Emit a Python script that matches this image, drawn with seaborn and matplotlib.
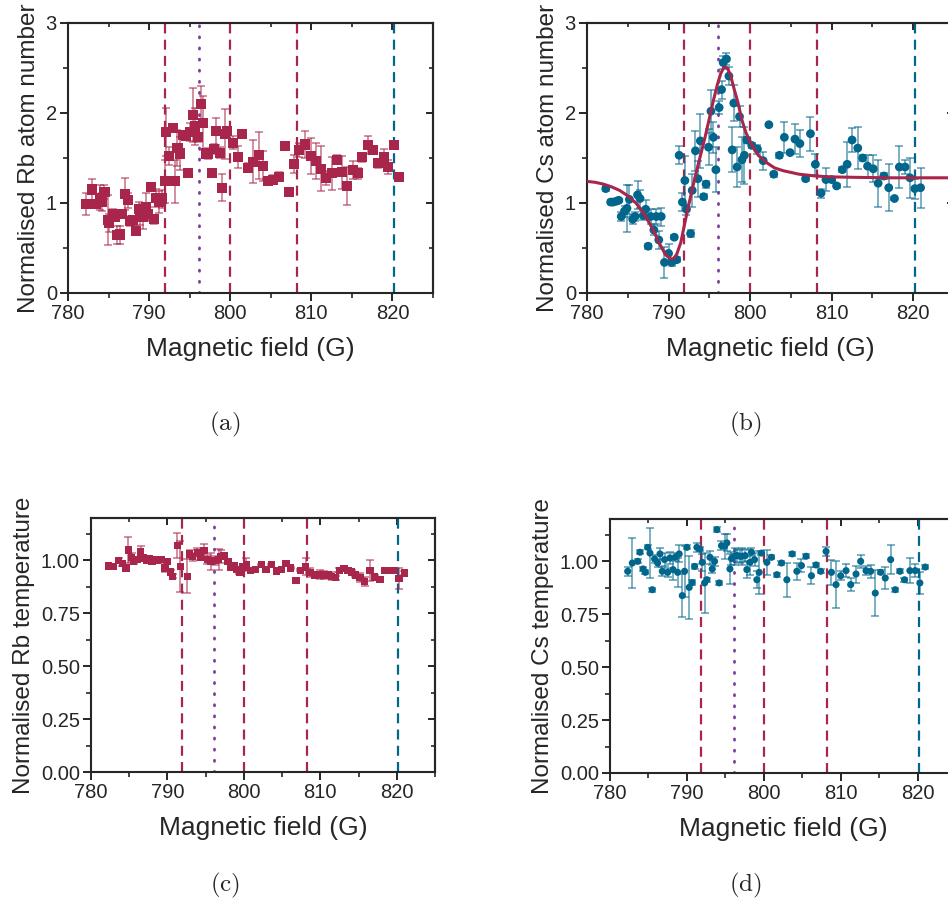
import numpy as np
import pandas as pd
import matplotlib
matplotlib.use("Agg")
import matplotlib.pyplot as plt
import seaborn as sns
from matplotlib.ticker import MultipleLocator, FormatStrFormatter

# Colores
ROJO = "#A8264B"
AZUL = "#00668C"
MORADO = "#7D3C98"

# Lineas de referencia (campo en G)
LINEAS_ROJAS = [791.9, 800.0, 808.2]
LINEA_MORADA = 796.1
LINEA_AZUL = 820.2

# (a) Rb atom number
rb_n_field = [782.2, 782.9, 783.5, 783.9, 784.2, 784.5, 784.9, 785.1, 785.5, 785.8,
              786.1, 786.4, 786.7, 787.0, 787.4, 787.7, 788.0, 788.4, 788.7, 788.9,
              789.3, 789.6, 789.9, 790.2, 790.6, 790.9, 791.2, 791.6, 791.9, 792.1,
              792.5, 792.9, 793.2, 793.5, 793.8, 794.2, 794.5, 794.8, 795.1, 795.4,
              795.7, 796.0, 796.4, 796.7, 797.0, 797.3, 797.7, 798.0, 798.3, 798.7,
              799.0, 799.3, 799.6, 800.3, 800.9, 801.5, 802.2, 802.8, 803.5, 804.1,
              804.7, 805.3, 806.0, 806.7, 807.3, 807.9, 808.5, 809.2, 809.9, 810.6,
              811.2, 811.8, 812.5, 813.2, 813.8, 814.4, 815.1, 815.7, 816.3, 817.0,
              817.6, 818.2, 818.9, 819.5, 820.2, 820.8]
rb_n_value = [0.99, 1.15, 0.99, 1.06, 1.01, 1.12, 0.81, 0.78, 0.88, 0.84,
              0.64, 0.65, 0.88, 1.10, 1.03, 0.80, 0.81, 0.69, 0.93, 0.86,
              0.85, 0.96, 0.88, 1.18, 0.82, 1.06, 1.01, 1.05, 1.24, 1.79,
              1.52, 1.83, 1.24, 1.61, 1.55, 1.76, 1.74, 1.33, 1.79, 1.98,
              1.85, 1.73, 2.10, 1.89, 1.55, 1.55, 1.33, 1.60, 1.80, 1.56,
              1.17, 1.77, 1.80, 1.67, 1.51, 1.77, 1.39, 1.46, 1.53, 1.41,
              1.24, 1.26, 1.29, 1.63, 1.12, 1.43, 1.59, 1.65, 1.52, 1.47,
              1.38, 1.28, 1.33, 1.48, 1.34, 1.19, 1.37, 1.33, 1.51, 1.64,
              1.59, 1.44, 1.51, 1.40, 1.64, 1.29]
rb_n_err = [0.12, 0.12, 0.04, 0.14, 0.10, 0.08, 0.28, 0.10, 0.05, 0.04,
            0.10, 0.10, 0.03, 0.18, 0.08, 0.06, 0.05, 0.05, 0.08, 0.10,
            0.14, 0.15, 0.08, 0.03, 0.05, 0.10, 0.12, 0.10, 0.24, 0.27,
            0.10, 0.03, 0.24, 0.20, 0.18, 0.03, 0.03, 0.02, 0.10, 0.30,
            0.20, 0.05, 0.20, 0.30, 0.03, 0.06, 0.04, 0.06, 0.15, 0.06,
            0.15, 0.28, 0.04, 0.07, 0.12, 0.02, 0.05, 0.24, 0.26, 0.17,
            0.03, 0.05, 0.05, 0.02, 0.02, 0.10, 0.08, 0.15, 0.20, 0.20,
            0.25, 0.08, 0.18, 0.05, 0.18, 0.21, 0.10, 0.06, 0.05, 0.10,
            0.03, 0.05, 0.09, 0.08, 0.04, 0.04]

# (b) Cs atom number
cs_n_field = [782.3, 782.9, 783.2, 783.6, 783.9, 784.2, 784.6, 784.9, 785.2, 785.6,
              785.9, 786.2, 786.5, 786.9, 787.2, 787.5, 787.8, 788.2, 788.5, 788.8,
              789.1, 789.5, 790.0, 790.4, 790.7, 791.0, 791.3, 791.7, 792.0, 792.2,
              792.7, 792.9, 793.3, 793.6, 793.9, 794.3, 794.6, 794.9, 795.2, 795.5,
              795.8, 796.2, 796.5, 796.7, 797.1, 797.4, 797.8, 798.0, 798.4, 798.7,
              799.0, 799.3, 799.6, 800.2, 800.9, 801.6, 802.3, 802.9, 803.6, 804.2,
              804.9, 805.5, 806.1, 806.8, 807.4, 808.0, 808.7, 809.3, 810.0, 810.6,
              811.3, 811.9, 812.5, 813.2, 813.8, 814.4, 815.1, 815.7, 816.4, 817.0,
              817.7, 818.3, 819.0, 819.6, 820.2, 820.9]
cs_n_value = [1.16, 1.01, 1.01, 1.02, 1.03, 0.85, 0.91, 0.94, 1.04, 0.82,
              0.85, 1.09, 1.05, 0.86, 0.93, 0.52, 0.85, 0.70, 0.85, 0.59,
              0.85, 0.34, 0.44, 0.34, 0.62, 0.37, 1.53, 1.01, 1.25, 0.93,
              0.66, 1.14, 1.58, 1.27, 1.69, 1.07, 1.21, 1.62, 2.02, 1.73,
              1.37, 2.06, 2.26, 2.56, 2.60, 2.41, 1.59, 2.11, 1.40, 1.96,
              1.48, 1.53, 1.70, 1.64, 1.60, 1.47, 1.87, 1.32, 1.53, 1.73,
              1.56, 1.71, 1.66, 1.27, 1.77, 1.43, 1.11, 1.26, 1.26, 1.19,
              1.37, 1.43, 1.70, 1.61, 1.50, 1.41, 1.38, 1.22, 1.30, 1.17,
              1.05, 1.40, 1.40, 1.28, 1.16, 1.17]
cs_n_err = [0.03, 0.02, 0.02, 0.02, 0.02, 0.05, 0.06, 0.26, 0.16, 0.05,
            0.05, 0.16, 0.10, 0.05, 0.10, 0.03, 0.08, 0.06, 0.08, 0.10,
            0.10, 0.17, 0.10, 0.04, 0.02, 0.03, 0.10, 0.10, 0.27, 0.06,
            0.04, 0.18, 0.22, 0.20, 0.30, 0.03, 0.04, 0.20, 0.24, 0.17,
            0.25, 0.07, 0.10, 0.07, 0.07, 0.10, 0.25, 0.20, 0.22, 0.12,
            0.25, 0.32, 0.03, 0.03, 0.05, 0.10, 0.01, 0.03, 0.03, 0.17,
            0.02, 0.17, 0.15, 0.02, 0.19, 0.12, 0.05, 0.13, 0.03, 0.02,
            0.03, 0.25, 0.13, 0.23, 0.03, 0.12, 0.15, 0.26, 0.03, 0.26,
            0.02, 0.23, 0.08, 0.22, 0.11, 0.22]

# Ajuste (b)
fit_field = [780.0, 781.0, 782.0, 783.0, 784.0, 785.0, 786.0, 787.0, 788.0, 789.0,
             789.6, 790.2, 790.6, 791.0, 791.5, 792.0, 792.5, 793.0, 793.5, 794.0,
             794.5, 795.0, 795.5, 796.0, 796.4, 796.8, 797.2, 797.6, 798.0, 798.5,
             799.0, 799.5, 800.0, 800.5, 801.0, 802.0, 803.0, 804.0, 805.0, 806.0,
             808.0, 810.0, 813.0, 817.0, 821.0, 825.0]
fit_value = [1.24, 1.23, 1.21, 1.18, 1.14, 1.08, 1.00, 0.88, 0.72, 0.53,
             0.43, 0.38, 0.38, 0.43, 0.56, 0.78, 0.99, 1.19, 1.38, 1.56,
             1.74, 1.94, 2.14, 2.32, 2.44, 2.51, 2.50, 2.42, 2.28, 2.12,
             1.92, 1.78, 1.68, 1.60, 1.53, 1.45, 1.39, 1.36, 1.34, 1.32,
             1.30, 1.29, 1.285, 1.28, 1.28, 1.28]

# (c) Rb temperature
rb_t_field = [782.3, 782.9, 783.6, 784.1, 784.6, 784.9, 785.3, 785.6, 786.0, 786.5,
              786.8, 787.3, 787.6, 788.0, 788.3, 788.7, 789.2, 789.7, 790.0, 790.4,
              790.7, 791.3, 791.7, 792.6, 792.9, 793.3, 793.9, 794.3, 794.8, 795.2,
              795.7, 796.2, 796.7, 797.0, 797.4, 797.9, 798.3, 798.7, 799.1, 799.4,
              799.9, 800.3, 800.9, 801.5, 802.3, 802.9, 803.6, 804.3, 804.9, 805.5,
              806.1, 806.8, 807.4, 808.1, 808.7, 809.3, 809.9, 810.5, 811.0, 811.5,
              812.0, 812.5, 813.1, 813.6, 814.1, 814.6, 815.2, 815.8, 816.5, 817.1,
              817.8, 818.4, 819.0, 819.6, 820.3, 821.0]
rb_t_value = [0.974, 0.972, 1.000, 0.985, 0.964, 1.048, 1.013, 0.993, 1.004, 1.040,
              1.011, 1.000, 1.008, 0.996, 1.005, 1.000, 1.005, 0.964, 0.993, 0.945,
              0.925, 1.070, 0.970, 0.925, 1.030, 1.017, 1.036, 1.013, 1.047, 1.005,
              0.996, 1.000, 1.005, 1.017, 1.024, 0.993, 0.969, 0.977, 0.958, 0.945,
              0.969, 0.980, 0.953, 0.956, 0.980, 0.956, 0.980, 0.950, 0.956, 0.985,
              0.964, 0.906, 0.953, 0.969, 0.942, 0.930, 0.933, 0.930, 0.930, 0.925,
              0.918, 0.953, 0.961, 0.953, 0.945, 0.930, 0.918, 0.900, 0.953, 0.921,
              0.910, 0.951, 0.951, 0.953, 0.914, 0.940]
rb_t_err = [0.005, 0.005, 0.01, 0.01, 0.01, 0.06, 0.02, 0.01, 0.01, 0.03,
            0.01, 0.01, 0.01, 0.01, 0.01, 0.005, 0.01, 0.02, 0.01, 0.01,
            0.01, 0.06, 0.12, 0.08, 0.02, 0.02, 0.02, 0.01, 0.03, 0.02,
            0.04, 0.02, 0.05, 0.03, 0.01, 0.01, 0.01, 0.01, 0.01, 0.01,
            0.01, 0.03, 0.005, 0.005, 0.005, 0.005, 0.005, 0.005, 0.005, 0.005,
            0.005, 0.005, 0.005, 0.04, 0.02, 0.01, 0.02, 0.02, 0.01, 0.02,
            0.01, 0.01, 0.005, 0.005, 0.01, 0.01, 0.02, 0.02, 0.05, 0.01,
            0.005, 0.005, 0.005, 0.01, 0.05, 0.01]

# (d) Cs temperature
cs_t_field = [782.3, 782.9, 783.6, 783.9, 784.3, 784.6, 784.9, 785.2, 785.5, 785.8,
              786.2, 786.5, 786.8, 787.1, 787.5, 787.8, 788.2, 788.5, 788.8, 789.0,
              789.4, 789.7, 790.0, 790.3, 790.7, 791.0, 791.3, 791.7, 792.0, 792.3,
              792.6, 793.0, 793.3, 793.6, 793.9, 794.2, 794.5, 794.9, 795.2, 795.6,
              795.8, 796.2, 796.5, 796.9, 797.2, 797.6, 797.8, 798.2, 798.4, 798.8,
              799.1, 799.4, 799.7, 800.4, 801.0, 801.7, 802.3, 803.0, 803.7, 804.3,
              804.9, 805.5, 806.2, 806.8, 807.4, 808.1, 808.8, 809.4, 810.0, 810.7,
              811.3, 812.0, 812.6, 813.3, 813.9, 814.5, 815.2, 815.8, 816.5, 817.1,
              817.7, 818.3, 819.0, 819.7, 820.3, 821.0]
cs_t_value = [0.953, 0.992, 1.000, 1.043, 0.964, 0.948, 1.066, 1.039, 0.866, 1.011,
              0.992, 1.035, 0.953, 1.008, 0.948, 1.016, 0.961, 1.020, 0.948, 1.035,
              0.838, 0.953, 1.066, 0.877, 0.900, 0.976, 1.066, 1.058, 0.995, 0.898,
              0.913, 1.019, 0.964, 1.000, 1.150, 0.898, 1.074, 1.071, 1.087, 0.964,
              1.013, 1.024, 1.028, 1.024, 1.024, 1.027, 0.961, 0.995, 1.043, 1.008,
              0.913, 0.948, 1.039, 0.995, 1.019, 0.937, 0.992, 0.913, 1.035, 0.953,
              0.980, 1.024, 0.932, 0.983, 0.953, 1.047, 0.948, 0.890, 0.932, 0.956,
              0.890, 0.940, 1.000, 0.956, 0.953, 0.850, 0.948, 0.921, 1.008, 0.866,
              0.953, 0.913, 0.956, 0.956, 0.898, 0.973]
cs_t_err = [0.02, 0.12, 0.01, 0.01, 0.01, 0.01, 0.01, 0.12, 0.01, 0.02,
            0.02, 0.03, 0.02, 0.03, 0.02, 0.03, 0.05, 0.02, 0.07, 0.04,
            0.10, 0.12, 0.01, 0.15, 0.01, 0.01, 0.02, 0.01, 0.04, 0.14,
            0.01, 0.03, 0.02, 0.02, 0.01, 0.01, 0.02, 0.06, 0.04, 0.07,
            0.03, 0.04, 0.03, 0.03, 0.04, 0.03, 0.04, 0.06, 0.02, 0.03,
            0.04, 0.10, 0.01, 0.06, 0.01, 0.01, 0.01, 0.08, 0.01, 0.04,
            0.03, 0.01, 0.04, 0.01, 0.01, 0.02, 0.06, 0.11, 0.02, 0.03,
            0.03, 0.04, 0.03, 0.02, 0.03, 0.11, 0.01, 0.05, 0.07, 0.01,
            0.01, 0.01, 0.06, 0.03, 0.05, 0.01]

FUENTE = ["Liberation Sans", "DejaVu Sans"]


def dibuja_panel(fig, rect, campo, valor, error, color, marcador, tam,
                 ylabel, ylim, ymayor, ymenor, fmt, etiqueta, pos_etiqueta,
                 ajuste=None):
    ax = fig.add_axes(rect)
    df = pd.DataFrame({"campo": campo, "valor": valor, "error": error})

    # lineas verticales
    for x in LINEAS_ROJAS:
        ax.axvline(x, color=ROJO, lw=1.6, ls=(0, (4.5, 2.8)), zorder=1)
    ax.axvline(LINEA_MORADA, color=MORADO, lw=2.0, ls=(0, (0.4, 3.6)),
               dash_capstyle="round", zorder=1)
    ax.axvline(LINEA_AZUL, color=AZUL, lw=1.6, ls=(0, (4.5, 2.8)), zorder=1)

    ax.errorbar(df["campo"], df["valor"], yerr=df["error"], fmt="none",
                ecolor=color, alpha=0.6, elinewidth=1.2, capsize=3,
                capthick=1.2, zorder=2)
    sns.scatterplot(data=df, x="campo", y="valor", marker=marcador, s=tam,
                    color=color, edgecolor="none", linewidth=0, ax=ax,
                    zorder=3, legend=False)
    if ajuste is not None:
        sns.lineplot(x=ajuste[0], y=ajuste[1], color=ROJO, lw=2.2, ax=ax,
                     zorder=4)

    ax.set_xlim(780, 825)
    ax.set_ylim(*ylim)
    ax.xaxis.set_major_locator(MultipleLocator(10))
    ax.xaxis.set_minor_locator(MultipleLocator(5))
    ax.yaxis.set_major_locator(MultipleLocator(ymayor))
    ax.yaxis.set_minor_locator(MultipleLocator(ymenor))
    ax.yaxis.set_major_formatter(FormatStrFormatter(fmt))
    ax.set_xticks([780, 790, 800, 810, 820])
    ax.tick_params(which="major", direction="out", length=6, width=1.4,
                   labelsize=14.5, pad=2)
    ax.tick_params(which="minor", direction="out", length=3.5, width=1.2)
    for s in ax.spines.values():
        s.set_linewidth(1.5)
        s.set_visible(True)

    # ticks hacia dentro en los ejes espejo
    arriba = ax.secondary_xaxis("top")
    arriba.xaxis.set_major_locator(MultipleLocator(10))
    arriba.xaxis.set_minor_locator(MultipleLocator(5))
    arriba.tick_params(which="both", direction="in", labeltop=False)
    arriba.tick_params(which="major", length=5, width=1.4)
    arriba.tick_params(which="minor", length=3, width=1.2)
    derecha = ax.secondary_yaxis("right")
    derecha.yaxis.set_major_locator(MultipleLocator(ymayor))
    derecha.yaxis.set_minor_locator(MultipleLocator(ymenor))
    derecha.tick_params(which="both", direction="in", labelright=False)
    derecha.tick_params(which="major", length=5, width=1.4)
    derecha.tick_params(which="minor", length=3, width=1.2)
    for sec in (arriba, derecha):
        for s in sec.spines.values():
            s.set_linewidth(1.5)

    ax.set_xlabel("Magnetic field (G)", fontsize=19, labelpad=10)
    ax.set_ylabel(ylabel, fontsize=17.5, labelpad=4)
    fig.text(pos_etiqueta[0], pos_etiqueta[1], etiqueta, fontsize=18,
             ha="center", va="center")
    return ax


def main():
    sns.set_theme(style="ticks")
    plt.rcParams["font.family"] = FUENTE
    plt.rcParams["mathtext.fontset"] = "cm"

    W, H = 948, 915
    fig = plt.figure(figsize=(W / 100, H / 100), dpi=100)

    def rect(x0, x1, y0, y1):
        return [x0 / W, 1 - y1 / H, (x1 - x0) / W, (y1 - y0) / H]

    dibuja_panel(fig, rect(68, 433, 23, 293), rb_n_field, rb_n_value, rb_n_err,
                 ROJO, "s", 52, "Normalised Rb atom number", (0, 3), 1, 0.5,
                 "%d", r"$\mathrm{(a)}$", (225 / W, 1 - 424 / H))
    dibuja_panel(fig, rect(587, 954, 23, 293), cs_n_field, cs_n_value, cs_n_err,
                 AZUL, "o", 40, "Normalised Cs atom number", (0, 3), 1, 0.5,
                 "%d", r"$\mathrm{(b)}$", (745 / W, 1 - 424 / H),
                 ajuste=(fit_field, fit_value))
    dibuja_panel(fig, rect(91, 435, 518, 772), rb_t_field, rb_t_value, rb_t_err,
                 ROJO, "s", 28, "Normalised Rb temperature", (0, 1.2), 0.25,
                 0.125, "%.2f", r"$\mathrm{(c)}$", (225 / W, 1 - 885 / H))
    dibuja_panel(fig, rect(610, 956, 519, 773), cs_t_field, cs_t_value, cs_t_err,
                 AZUL, "o", 26, "Normalised Cs temperature", (0, 1.2), 0.25,
                 0.125, "%.2f", r"$\mathrm{(d)}$", (745 / W, 1 - 885 / H))

    fig.savefig("out.png", dpi=100)
    plt.close(fig)


if __name__ == "__main__":
    main()
